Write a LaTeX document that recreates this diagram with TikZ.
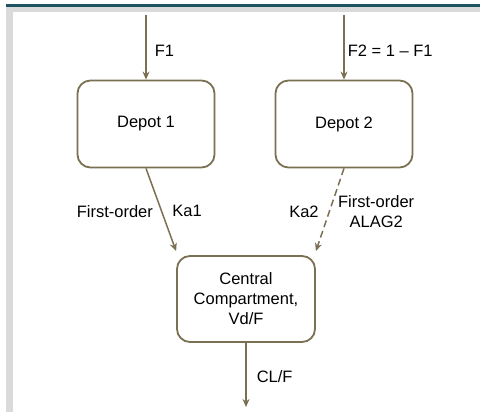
\documentclass[tikz,border=0pt]{standalone}
\usepackage{fontspec}
\setmainfont{Liberation Sans}
\usetikzlibrary{positioning, arrows.meta}
\definecolor{Olive}{RGB}{122, 112, 82}
\definecolor{Teal}{RGB}{30, 84, 98}
\definecolor{Grey15}{RGB}{218, 218, 218}
\tikzset{
    etichetta/.style = {inner sep=2pt, align=center},
    freccia/.style = {arrows = {-Stealth[length=8pt, width=7pt]}, draw=Olive, line width=1.5pt}
}

\begin{document}
\begin{tikzpicture}[
    x=1pt, y=1pt,
    font=\fontsize{16.5}{20}\selectfont,
    compartimento/.style = {draw=Olive, line width=1.8pt, rounded corners=13pt, fill=white, align=center, minimum width=137pt, minimum height=87pt},
    ritardo/.style = {dash pattern=on 7pt off 4pt}
    ]

    %%% Frame
    \useasboundingbox (0,0) rectangle (480,412);
    \fill[Teal]   (6,405) rectangle (480,407.5);
    \fill[Grey15] (6,0) rectangle (480,405);
    \fill[white]  (12.5,0) rectangle (480,400);

    %%% Compartments
    \node[compartimento] (depot1) at (146,288) {Depot 1};
    \node[compartimento] (depot2) at (344,288) {Depot 2};
    \node[compartimento, minimum width=138pt, minimum height=86pt] (central) at (246,113) {Central\\Compartment,\\Vd/F};

    % dose and elimination ends
    \coordinate (dose1) at (146,397);
    \coordinate (dose2) at (344,397);
    \coordinate (elim)  at (246,5);

    %%% Bioavailable fractions
    \draw[freccia] (dose1) -- (depot1.north) node[pos=0.56, right=6pt, etichetta] {F1};
    \draw[freccia] (dose2) -- (depot2.north) node[pos=0.56, right=1pt, etichetta] {F2 = 1 -- F1};

    %%% Absorption
    \draw[freccia] (depot1.south) -- ([yshift=4pt]central.north west)
        node[pos=0.52, left=6pt, etichetta] {First-order}
        node[pos=0.52, right=8pt, etichetta] {Ka1};
    \draw[freccia, ritardo] (depot2.south) -- ([yshift=4pt]central.north east)
        node[pos=0.52, left=8pt, etichetta] {Ka2}
        node[pos=0.52, right=6pt, etichetta] {First-order\\ALAG2};

    %%% Elimination
    \draw[freccia] (central.south) -- (elim) node[pos=0.52, right=8pt, etichetta] {CL/F};
\end{tikzpicture}
\end{document}
